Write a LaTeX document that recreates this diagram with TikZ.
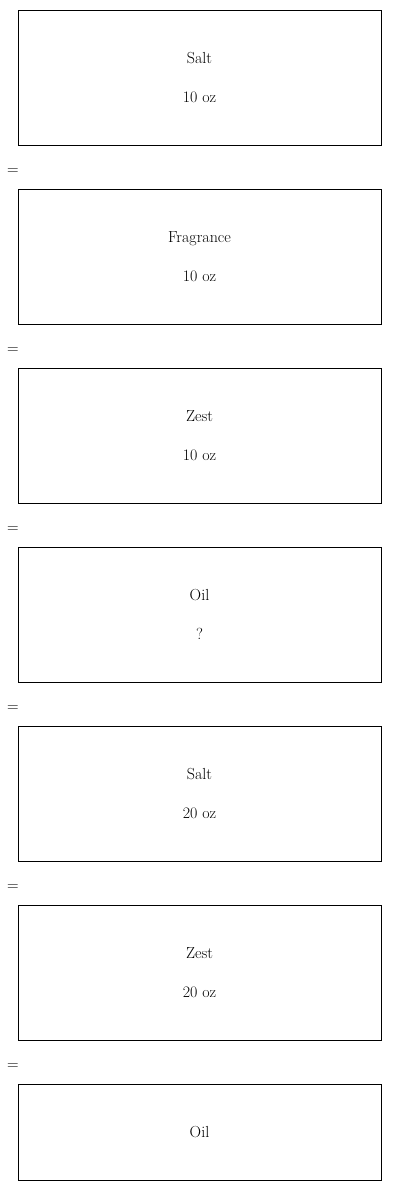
\documentclass[tikz,border=0pt]{standalone}
\usepackage{tikz}
\usetikzlibrary{positioning}
\tikzset{
  qtybox/.style={
    draw, line width=0.8pt, minimum width=363pt, minimum height=135pt,
    inner sep=0pt, align=center, font=\fontsize{16}{39}\selectfont
  },
  lastbox/.style={qtybox, minimum height=96pt},
  eqsign/.style={font=\fontsize{16}{18}\selectfont, inner sep=0pt}
}
\begin{document}
\begin{tikzpicture}[x=1pt, y=1pt]
  \useasboundingbox (0,0) rectangle (400,-1191);
  % quantity boxes
  \foreach \n/\y/\txt in {
    salt/77.5/{Salt\\10 oz},
    fragrance/256.5/{Fragrance\\10 oz},
    zest/435.5/{Zest\\10 oz},
    oil/614.5/{Oil\\?},
    saltb/793.5/{Salt\\20 oz},
    zestb/972.5/{Zest\\20 oz}}{
    \node[qtybox] (\n) at (199.5,-\y) {\txt};
  }
  \node[lastbox] (oilb) at (199.5,-1132) {Oil};
  % equals signs between boxes
  \foreach \i in {1,...,6}{
    \node[eqsign] (eq\i) at (13,-172-179*\i+179) {=};
  }
\end{tikzpicture}
\end{document}
